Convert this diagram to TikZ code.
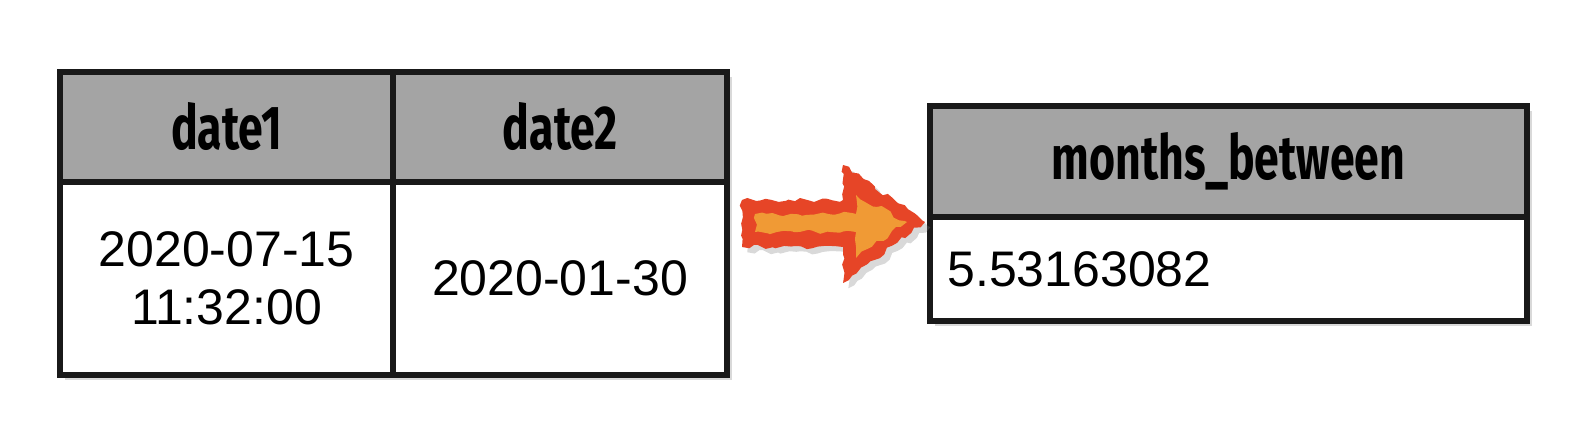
\documentclass[tikz,border=0pt]{standalone}
\usepackage{fontspec}
\setmainfont{Liberation Sans}
\newfontfamily\handfont[FakeStretch=0.72]{Fira Sans}
\usetikzlibrary{shadows,decorations.pathmorphing}
\definecolor{headgray}{HTML}{A4A4A4}
\definecolor{flamered}{HTML}{E64527}
\definecolor{flameorange}{HTML}{F09A35}
\tikzset{
  cellline/.style={draw=black!90, line width=2.7pt},
  headtext/.style={font=\handfont\bfseries\fontsize{31}{31}\selectfont},
  valtext/.style={font=\fontsize{25}{29}\selectfont, align=center},
  flame/.style={decorate, decoration={random steps, segment length=3pt, amplitude=1.2pt}},
}

\begin{document}
\begin{tikzpicture}[x=0.5pt, y=-0.5pt]
        \useasboundingbox (0,0) rectangle (1586,448);
        % input table
        \draw[cellline, fill=white, drop shadow={opacity=0.3}] (60,72) rectangle (727,375);
        \draw[cellline, fill=headgray] (60,72) rectangle (393,182) node[midway, headtext] (h1) {date1};
        \draw[cellline, fill=headgray] (393,72) rectangle (727,182) node[midway, headtext] (h2) {date2};
        \draw[cellline] (60,182) rectangle (393,375) node[midway, valtext] (v1) {2020-07-15\\11:32:00};
        \draw[cellline] (393,182) rectangle (727,375) node[midway, valtext] (v2) {2020-01-30};
        % result table
        \draw[cellline, fill=white, drop shadow={opacity=0.3}] (930,106) rectangle (1527,321);
        \draw[cellline, fill=headgray] (930,106) rectangle (1527,217) node[midway, headtext] (h3) {months\_between};
        \draw[cellline] (930,217) rectangle (1527,321);
        \node[valtext, anchor=west, inner sep=0pt] (v3) at (947,269) {5.53163082};
        % arrow
        \fill[flamered, flame, drop shadow={opacity=0.3}] (742,200) -- (843,200) -- (843,165) -- (925,222) -- (843,283) -- (843,247) -- (742,247) -- cycle;
        \fill[flameorange, flame] (755,214) -- (856,214) -- (856,195) -- (907,222) -- (856,258) -- (856,232) -- (755,232) -- cycle;
    \end{tikzpicture}
\end{document}
